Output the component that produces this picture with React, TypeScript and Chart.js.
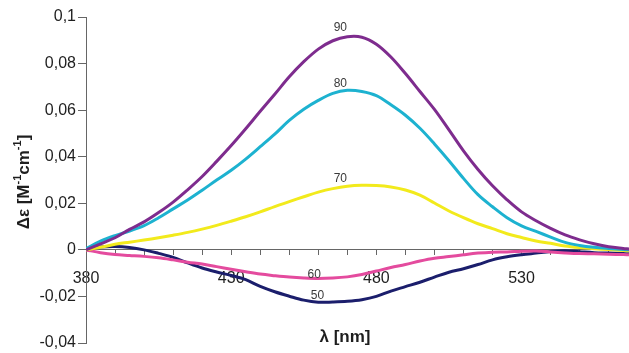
import { useEffect, useRef } from "react";
import { Chart, registerables } from "chart.js";

Chart.register(...registerables);

const wavelengths = [
  380, 385, 390, 395, 400, 405, 410, 415, 420, 425, 430, 435, 440, 445, 450, 455, 460, 465, 470,
  475, 480, 485, 490, 495, 500, 505, 510, 515, 520, 525, 530, 535, 540, 545, 550, 555, 560, 565, 567,
];

const de90 = [
  0, 0.0026, 0.0052, 0.0088, 0.012, 0.016, 0.0205, 0.0258, 0.0315, 0.038, 0.0448, 0.052, 0.0595,
  0.0668, 0.0743, 0.0808, 0.0862, 0.0898, 0.0915, 0.0913, 0.0883, 0.0828, 0.0757, 0.068, 0.0603,
  0.0515, 0.0425, 0.0345, 0.0275, 0.0215, 0.0163, 0.0125, 0.0092, 0.0064, 0.0043, 0.0026, 0.0013,
  0.0006, 0.0004,
];

const de80 = [
  0.0005, 0.0037, 0.0061, 0.0081, 0.0104, 0.0138, 0.0176, 0.0214, 0.0256, 0.03, 0.0342, 0.039,
  0.0443, 0.0497, 0.0556, 0.0604, 0.0642, 0.0672, 0.0685, 0.068, 0.0662, 0.0623, 0.0578, 0.0522,
  0.0455, 0.0383, 0.0307, 0.0237, 0.0185, 0.0138, 0.0103, 0.0079, 0.0055, 0.0032, 0.0019, 0.0011,
  0.0006, 0.0002, 0,
];

const de70 = [
  0, 0.0011, 0.0024, 0.0033, 0.0042, 0.0052, 0.0063, 0.0075, 0.0089, 0.0105, 0.0123, 0.0142, 0.0163,
  0.0186, 0.0207, 0.0228, 0.0248, 0.0263, 0.0273, 0.0277, 0.0276, 0.027, 0.0257, 0.0235, 0.0201,
  0.0167, 0.0138, 0.0112, 0.0091, 0.0069, 0.0053, 0.0038, 0.0028, 0.0017, 0.001, 0.0005, 0.0001,
  -0.0003, -0.0004,
];

const de60 = [
  0, -0.0012, -0.002, -0.0024, -0.0028, -0.0034, -0.0043, -0.0053, -0.0061, -0.0072, -0.0083,
  -0.0094, -0.0104, -0.0111, -0.0117, -0.0121, -0.0123, -0.0121, -0.0116, -0.0106, -0.0091,
  -0.0076, -0.0063, -0.0048, -0.0036, -0.0029, -0.0021, -0.0014, -0.001, -0.0009, -0.0006,
  -0.0005, -0.0009, -0.0013, -0.0016, -0.0017, -0.0019, -0.002, -0.0021,
];

const de50 = [
  0.0004, 0.0012, 0.0014, 0.001, 0, -0.0015, -0.0032, -0.0056, -0.0078, -0.0095, -0.011, -0.0128,
  -0.0157, -0.018, -0.0199, -0.0216, -0.0225, -0.0224, -0.0221, -0.0214, -0.02, -0.0177, -0.0158,
  -0.0139, -0.0117, -0.0096, -0.0081, -0.0063, -0.0043, -0.003, -0.0021, -0.0014, -0.0007, -0.0004,
  -0.0008, -0.0012, -0.0014, -0.0016, -0.0017,
];

const seriesNames = ["90", "80", "70", "60", "50"];
const seriesColors = ["#7E2C8E", "#1DB2D0", "#F2EA1C", "#E44B9E", "#1B1E6C"];
const seriesValues = [de90, de80, de70, de60, de50];

const curveLabelX = [467.6, 467.6, 467.6, 458.6, 459.7];
const curveLabelY = [0.0954, 0.0715, 0.0306, -0.0108, -0.0196];

const xTickLabels = [380, 430, 480, 530];
const xMin = 380;
const xMax = 567;
const yMin = -0.04;
const yMax = 0.1;
const yStep = 0.02;

const FONT = "'Liberation Sans', Arial, sans-serif";

const textPlugin = {
  id: "texts",
  afterDraw(chart: any) {
    const ctx = chart.ctx as CanvasRenderingContext2D;
    const xs = chart.scales.x;
    const ys = chart.scales.y;
    ctx.save();
    ctx.fillStyle = "#3a3a3a";
    ctx.font = `12px ${FONT}`;
    ctx.textAlign = "center";
    ctx.textBaseline = "middle";
    seriesNames.forEach((n, i) => {
      ctx.fillText(n, xs.getPixelForValue(curveLabelX[i]), ys.getPixelForValue(curveLabelY[i]));
    });

    // x title
    ctx.fillStyle = "#1e1e1e";
    ctx.font = `bold 17px ${FONT}`;
    ctx.fillText("λ [nm]", 345, 337);

    // y title with superscripts
    const parts: [string, boolean][] = [
      ["Δε [M", false],
      ["-1", true],
      ["cm", false],
      ["-1", true],
      ["]", false],
    ];
    const big = `bold 17px ${FONT}`;
    const small = `bold 11px ${FONT}`;
    let total = 0;
    const widths = parts.map(([t, sup]) => {
      ctx.font = sup ? small : big;
      const w = ctx.measureText(t).width;
      total += w;
      return w;
    });
    ctx.translate(24, 182);
    ctx.rotate(-Math.PI / 2);
    ctx.textAlign = "left";
    let cx = -total / 2;
    parts.forEach(([t, sup], i) => {
      ctx.font = sup ? small : big;
      ctx.fillText(t, cx, sup ? -6 : 0);
      cx += widths[i];
    });
    ctx.restore();
  },
};

export default function App() {
  const ref = useRef<HTMLCanvasElement>(null);
  useEffect(() => {
    const datasets = seriesValues.map((vals, i) => ({
      label: seriesNames[i],
      data: wavelengths.map((w, j) => ({ x: w, y: vals[j] })),
      borderColor: seriesColors[i],
      backgroundColor: seriesColors[i],
      borderWidth: 3,
      pointRadius: 0,
      tension: 0.35,
      fill: false,
    }));
    const chart = new Chart(ref.current!, {
      type: "line",
      data: { datasets },
      options: {
        responsive: false,
        animation: false,
        layout: { padding: { left: 0, top: 17, right: 0, bottom: 6 } },
        plugins: { legend: { display: false }, tooltip: { enabled: false }, title: { display: false } },
        scales: {
          x: {
            type: "linear",
            min: xMin,
            max: xMax,
            position: { y: 0 } as any,
            grid: { drawOnChartArea: false, drawTicks: true, tickLength: 5, color: "#666" },
            border: { color: "#666", width: 1 },
            ticks: {
              stepSize: 10,
              includeBounds: false,
              autoSkip: false,
              maxRotation: 0,
              padding: 14,
              color: "#1e1e1e",
              font: { family: FONT, size: 16 },
              callback: (v: any) => (xTickLabels.includes(Number(v)) ? String(v) : ""),
            },
          },
          y: {
            type: "linear",
            min: yMin,
            max: yMax,
            grid: { drawOnChartArea: false, drawTicks: true, tickLength: 8, color: "#666" },
            border: { color: "#666", width: 1 },
            ticks: {
              stepSize: yStep,
              padding: 2,
              color: "#1e1e1e",
              font: { family: FONT, size: 16, lineHeight: 1 },
              callback: (v: any) => String(Math.round(Number(v) * 100) / 100).replace(".", ","),
            },
            afterFit: (scale: any) => {
              scale.width = 86;
            },
          },
        },
      },
      plugins: [textPlugin],
    });
    return () => chart.destroy();
  }, []);
  return (
    <div style={{ position: "fixed", left: 0, top: 0, width: 629, height: 353, background: "#fff" }}>
      <canvas ref={ref} width={629} height={353} style={{ display: "block" }} />
    </div>
  );
}
